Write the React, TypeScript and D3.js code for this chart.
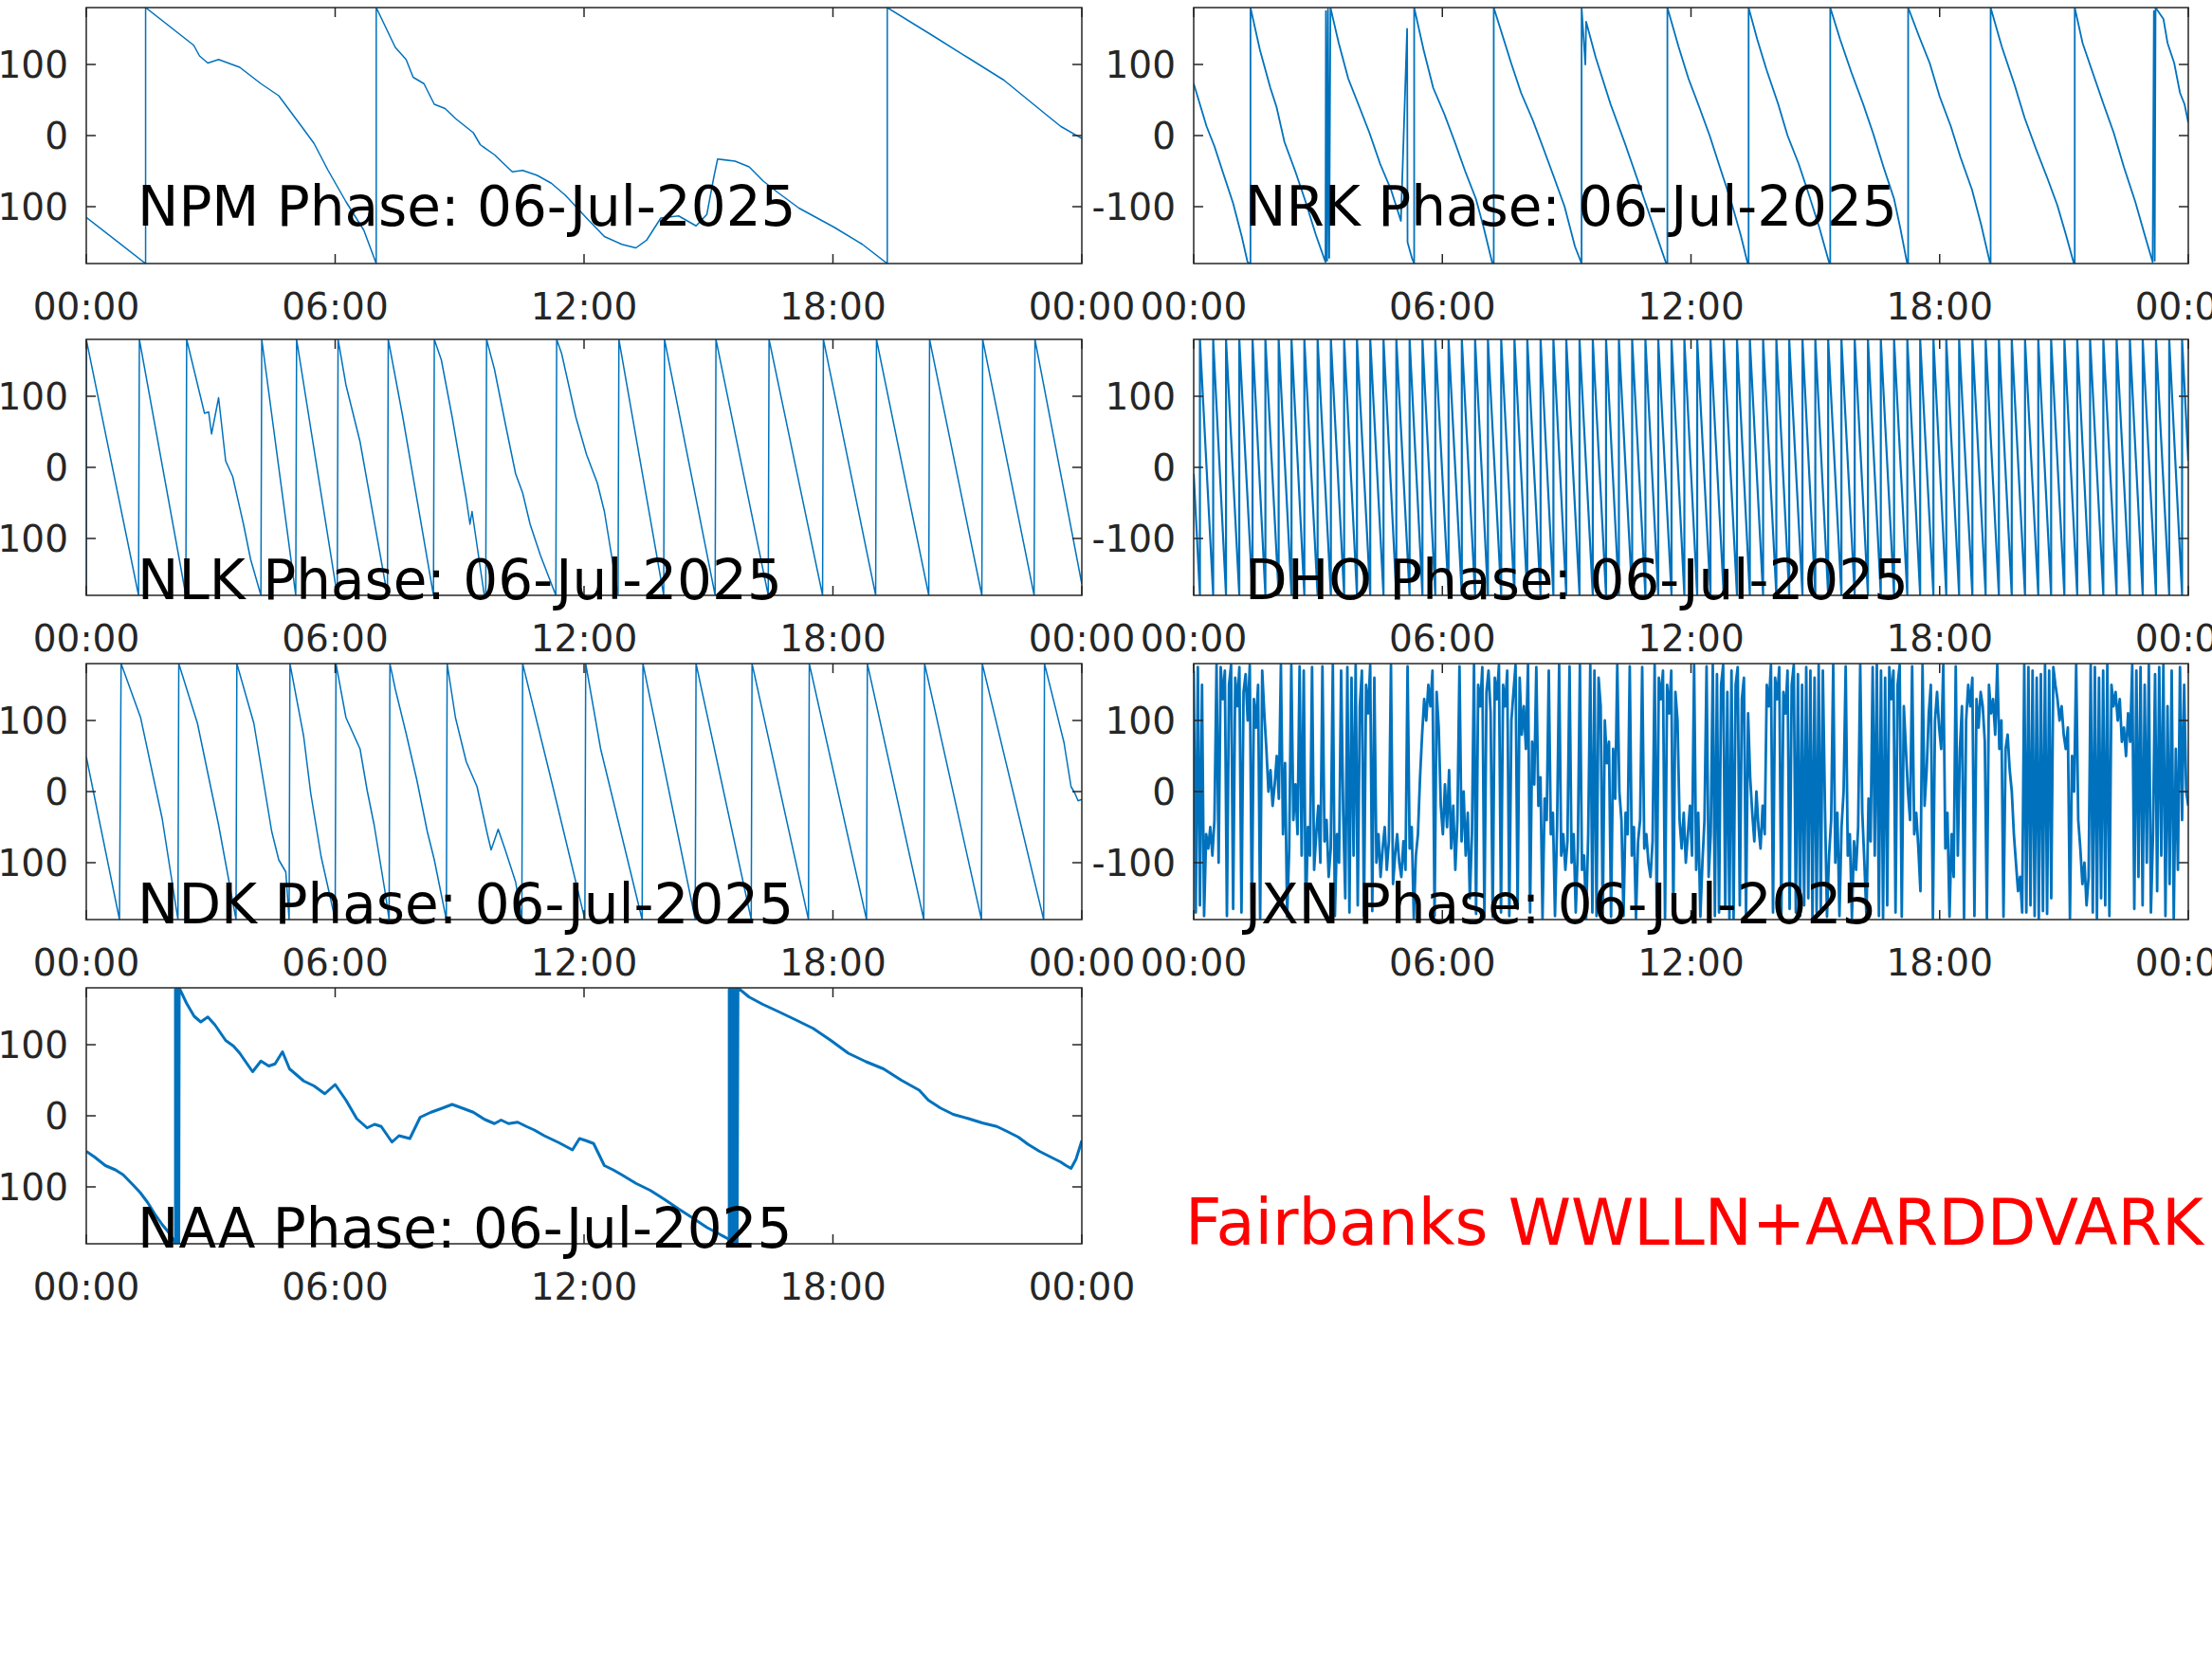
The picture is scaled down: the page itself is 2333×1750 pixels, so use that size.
import React from 'react';
import * as d3 from 'd3';

// phase readings [hour, degrees] for 06-Jul-2025
const npmPhase: [number, number][] = [
  [0, -115], [1.43, -180], [1.43, 180], [2.59, 127], [2.73, 112], [2.93, 102], [3.19, 107], [3.7, 96],
  [4.21, 73], [4.64, 56], [5.15, 16], [5.49, -11], [5.83, -49], [6.26, -93], [6.69, -133], [6.99, -180],
  [6.99, 180], [7.45, 124], [7.71, 107], [7.88, 82], [8.14, 73], [8.39, 44], [8.65, 38], [8.9, 24],
  [9.33, 4], [9.5, -13], [9.84, -27], [10.27, -51], [10.52, -49], [10.87, -56], [11.21, -67], [11.55, -84],
  [12.06, -116], [12.49, -142], [12.91, -153], [13.25, -158], [13.51, -147], [13.85, -116], [14.28, -113],
  [14.7, -127], [14.96, -111], [15.13, -58], [15.22, -33], [15.64, -36], [15.98, -44], [16.32, -64],
  [16.67, -80], [17.18, -102], [18.03, -129], [18.71, -153], [19.31, -180], [19.31, 180], [20.42, 140],
  [21.27, 109], [22.12, 78], [23.15, 29], [23.49, 13], [24, -4],
];

const nrkPhase: [number, number][] = [
  [0, 73], [0.31, 13], [0.5, -15], [0.74, -58], [0.95, -95], [1.16, -142], [1.3, -178], [1.37, -180], [1.37, 180],
  [1.6, 120], [1.85, 67], [2.0, 40], [2.19, -9], [2.45, -50], [2.7, -93], [2.95, -140], [3.18, -178],
  [3.19, 175], [3.22, -176], [3.24, 178], [3.27, -172], [3.3, 180], [3.5, 130], [3.73, 80], [4.0, 40],
  [4.24, 4], [4.5, -40], [4.76, -76], [5.0, -120], [5.15, 150], [5.16, -150], [5.27, -173], [5.32, -180],
  [5.32, 180], [5.55, 120], [5.78, 67], [6.05, 30], [6.3, -9], [6.55, -50], [6.81, -89], [7.0, -130],
  [7.2, -178], [7.24, -180], [7.24, 180], [7.66, 102], [7.9, 60], [8.18, 22], [8.45, -20], [8.69, -58],
  [8.95, -100], [9.2, -156], [9.36, -180], [9.36, 180], [9.45, 100], [9.47, 160], [9.7, 110], [10.06, 44],
  [10.4, -10], [10.74, -67], [11.05, -120], [11.39, -178], [11.43, -180], [11.43, 180], [11.7, 125],
  [11.94, 80], [12.2, 40], [12.45, 0], [12.7, -45], [12.97, -93], [13.2, -140], [13.36, -178],
  [13.39, -180], [13.39, 180], [13.6, 135], [13.82, 93], [14.1, 45], [14.33, 0], [14.6, -40], [14.85, -84],
  [15.1, -130], [15.33, -178], [15.36, -180], [15.36, 180], [15.6, 135], [15.87, 89], [16.15, 45],
  [16.39, 4], [16.65, -45], [16.9, -89], [17.05, -130], [17.21, -178], [17.24, -180], [17.24, 180],
  [17.5, 140], [17.76, 102], [18.0, 55], [18.27, 13], [18.5, -30], [18.78, -76], [19.0, -125],
  [19.21, -178], [19.23, -180], [19.23, 180], [19.5, 125], [19.81, 71], [20.05, 25], [20.32, -18],
  [20.6, -60], [20.84, -98], [21.05, -140], [21.23, -178], [21.26, -180], [21.26, 180], [21.45, 130],
  [21.69, 89], [21.95, 45], [22.2, 4], [22.45, -45], [22.72, -93], [22.95, -140], [23.14, -178],
  [23.17, 175], [23.19, -176], [23.21, 180], [23.4, 164], [23.5, 130], [23.66, 102], [23.8, 60],
  [23.91, 44], [24, 18],
];

const nlkPhase: [number, number][] = [
  [0, -180], [0, 180], [1.26, -180], [1.28, 180], [2.4, -180], [2.42, 180], [2.85, 76], [2.95, 78],
  [3.02, 47], [3.19, 98], [3.36, 9], [3.53, -13], [3.79, -80], [3.96, -129], [4.21, -180], [4.23, 180],
  [5.05, -180], [5.07, 180], [6.05, -180], [6.07, 180], [6.26, 116], [6.6, 36], [7.26, -180], [7.28, 180],
  [7.63, 71], [8.37, -180], [8.39, 180], [8.56, 151], [8.82, 71], [9.16, -44], [9.25, -80], [9.3, -62],
  [9.59, -178], [9.63, -180], [9.65, 180], [9.84, 138], [10.1, 62], [10.35, -9], [10.52, -36],
  [10.7, -80], [10.95, -124], [11.32, -180], [11.34, 180], [11.46, 160], [11.8, 71], [12.06, 18],
  [12.32, -22], [12.49, -62], [12.82, -180], [12.84, 180], [13.92, -180], [13.94, 180], [15.16, -180],
  [15.18, 180], [16.44, -180], [16.46, 180], [17.75, -180], [17.77, 180], [19.03, -180], [19.05, 180],
  [20.31, -180], [20.33, 180], [21.59, -180], [21.61, 180], [22.85, -180], [22.87, 180], [24, -164],
];

// DHO wraps too fast to list every reading: hours where phase jumps -180 -> 180
const dhoWraps: number[] = [
  0.15, 0.47, 0.78, 1.1, 1.42, 1.73, 2.05, 2.36, 2.67, 2.99, 3.31, 3.63, 3.94, 4.26, 4.58, 4.89, 5.21,
  5.52, 5.83, 6.15, 6.47, 6.79, 7.1, 7.42, 7.74, 8.05, 8.37, 8.68, 8.99, 9.31, 9.63, 9.95, 10.26, 10.58,
  10.9, 11.21, 11.53, 11.84, 12.15, 12.47, 12.79, 13.11, 13.42, 13.74, 14.06, 14.37, 14.69, 15.0, 15.31,
  15.63, 15.95, 16.27, 16.58, 16.9, 17.22, 17.53, 17.85, 18.16, 18.47, 18.79, 19.11, 19.43, 19.74,
  20.06, 20.38, 20.69, 21.01, 21.32, 21.63, 21.95, 22.27, 22.59, 22.9, 23.22, 23.54, 23.85,
];
const dhoStart = -9;
const dhoEnd = 9;

const ndkPhase: [number, number][] = [
  [0, 49], [0.8, -180], [0.84, 180], [1.31, 104], [1.83, -38], [2.21, -180], [2.23, 180], [2.68, 96],
  [3.19, -47], [3.61, -180], [3.63, 180], [4.04, 96], [4.47, -56], [4.64, -96], [4.81, -113],
  [4.89, -180], [4.91, 180], [5.24, 78], [5.41, -2], [5.66, -91], [6.0, -180], [6.02, 180], [6.26, 104],
  [6.6, 60], [6.77, 2], [6.94, -47], [7.2, -140], [7.3, -180], [7.32, 180], [7.45, 144], [7.71, 82],
  [7.97, 16], [8.22, -56], [8.39, -96], [8.68, -180], [8.7, 180], [8.9, 104], [9.16, 42], [9.42, 7],
  [9.67, -60], [9.76, -82], [9.93, -53], [10.1, -82], [10.35, -127], [10.5, -180], [10.52, 180],
  [11.21, 16], [12.02, -180], [12.04, 180], [12.4, 60], [13.4, -180], [13.42, 180], [14.68, -180],
  [14.7, 180], [16.03, -180], [16.05, 180], [17.41, -180], [17.43, 180], [18.81, -180], [18.83, 180],
  [20.19, -180], [20.21, 180], [21.58, -180], [21.6, 180], [23.08, -180], [23.1, 180], [23.57, 69],
  [23.74, 7], [23.83, -2], [23.91, -13], [24, -11],
];

// JXN: evenly spaced readings across the day, one row per hour
const jxnPhase: number[] = [
  170, -170, 175, -160, 150, -175, -60, -80, -50, -90, -40, 178, -100, 175, 130, 170, -175, 150, 178, -165,
  160, 120, 175, -170, 140, 165, 100, 178, -172, 130, 90, 150, -178, 170, 110, 60, 0, 30, -20, 10,
  50, -10, 178, -60, 40, -176, -80, 178, -40, 10, -60, 176, -90, 170, -178, -50, -90, 175, -110, -60,
  -20, -100, 176, -70, -40, -120, -80, 178, -175, -60, -100, 170, -30, -150, 175, -170, 160, -90, 178, -160,
  120, 170, -175, 150, 110, 178, -168, 160, -100, -60, -120, -80, -50, -110, -70, 178, -130, -90, -60, -100,
  -120, -70, -110, 176, -80, -50, -178, -90, -60, 20, 80, 130, 100, 150, 120, 170, -175, 140, 90, -20,
  -60, 10, -50, 30, -80, -20, -110, -40, 176, -70, 0, -90, -30, -150, -60, 178, -172, 150, 120, 175,
  -178, 140, 170, 110, -176, 160, 130, 178, -170, 150, 120, 170, -175, 100, 140, 178, -165, 160, 80, 120,
  60, 178, -170, 70, 10, 175, -20, 20, -178, -10, -40, 170, -60, -30, -175, -50, 178, -90, -60, -110,
  -70, 176, -100, -60, -170, -80, 178, -110, -90, -178, -60, 178, -170, 170, -175, 160, 120, -178, 100, 40,
  70, -176, 60, -10, 178, 0, -40, -175, -30, -60, 176, -90, -50, -178, -70, -40, 175, -80, -60, -100,
  -120, -70, 178, -175, 160, 130, 170, -178, 150, 110, 170, -172, 140, 100, -40, -80, -30, -100, -60, -20,
  -90, 178, -110, -30, -176, -100, -40, 176, -120, -60, 178, -175, 165, -170, 150, 178, -165, 140, -178, 170,
  -178, 150, 175, -160, 130, 160, -175, 110, 20, -30, -70, 0, -50, -80, -20, -60, 150, 120, 178, -170,
  160, 130, 175, -178, 140, 110, 170, -165, 150, 178, -170, 165, -175, 150, -160, 175, -150, 170, -178, 160,
  -170, 178, -165, 170, -20, -176, -90, -40, 178, -100, -30, -175, -50, 0, 176, -90, -60, -178, -70, -110,
  -50, 178, -30, -100, -176, -10, -70, 175, -90, 178, -175, 170, -178, 160, -160, 175, 130, 170, -170, 150,
  178, -176, 120, 60, 0, -40, 176, -60, -30, -80, -140, 178, -20, 30, 110, 150, -178, 100, 140, 90,
  60, 178, -80, -30, -176, -60, -120, 176, -90, 60, 120, -178, 100, 150, 120, 160, -175, 130, 90, 140,
  120, 70, -178, 150, 110, 130, 80, 178, 60, 100, -176, 60, 80, 30, 0, -60, -100, -140, -120, -170,
  178, -170, 175, -160, 170, -175, 160, -178, 165, -168, 178, -172, 170, -150, 175, 150, 130, 100, 120, 80,
  60, 90, -178, 50, 0, 178, -40, -80, -130, -100, -160, -120, 178, -170, 175, -178, 160, -150, 170, -160,
  178, -175, 150, 120, 140, 100, 130, 70, 90, 50, 110, 70, 178, -165, 170, -120, 175, -160, 150, -100,
  178, -170, -60, 165, -140, 175, -90, 178, -175, 120, -130, 170, -178, 60, -110, 175, -40, 150, 0, -20,
];

const naaPhase: [number, number][] = [
  [0, -50], [0.2, -58], [0.46, -70], [0.7, -76], [0.89, -83], [1.14, -98], [1.3, -108], [1.48, -122],
  [1.65, -138], [1.83, -153], [2.0, -165], [2.13, -177], [2.15, -180], [2.15, 178], [2.17, -179],
  [2.18, 179], [2.2, -178], [2.21, 180], [2.23, -179], [2.24, 180], [2.42, 158], [2.6, 140], [2.76, 132],
  [2.93, 139], [3.1, 128], [3.36, 106], [3.55, 98], [3.7, 88], [4.01, 62], [4.21, 77], [4.4, 70],
  [4.55, 73], [4.73, 90], [4.9, 66], [5.24, 49], [5.49, 42], [5.75, 31], [6.0, 44], [6.26, 22],
  [6.52, -4], [6.77, -17], [6.95, -12], [7.11, -15], [7.37, -37], [7.54, -28], [7.8, -32], [8.05, -2],
  [8.31, 5], [8.55, 10], [8.82, 16], [9.1, 10], [9.33, 5], [9.6, -5], [9.84, -11], [10.0, -6],
  [10.18, -11], [10.4, -9], [10.61, -15], [10.8, -20], [11.04, -28], [11.4, -38], [11.72, -48],
  [11.89, -32], [12.05, -35], [12.23, -39], [12.49, -70], [12.7, -76], [12.91, -83], [13.25, -95],
  [13.6, -105], [13.95, -118], [14.28, -131], [14.6, -143], [14.96, -157], [15.25, -166], [15.47, -173],
  [15.5, -178], [15.5, 178], [15.53, -177], [15.56, 179], [15.59, -178], [15.61, 178], [15.64, -179],
  [15.67, 179], [15.69, -178], [15.71, 180], [15.98, 167], [16.3, 157], [16.67, 147], [17.1, 135],
  [17.52, 123], [17.95, 106], [18.37, 88], [18.8, 76], [19.22, 66], [19.65, 50], [20.08, 36],
  [20.3, 22], [20.59, 11], [20.9, 2], [21.27, -4], [21.6, -10], [21.95, -15], [22.2, -22], [22.47, -30],
  [22.7, -40], [22.98, -50], [23.25, -58], [23.49, -65], [23.62, -70], [23.74, -74], [23.86, -61],
  [24, -35],
];

const stations = ['NPM', 'NRK', 'NLK', 'DHO', 'NDK', 'JXN', 'NAA'];
const dateLabel = '06-Jul-2025';
const yTicks = [-100, 0, 100];
const siteLabel = 'Fairbanks WWLLN+AARDDVARK';

const dhoPhase: [number, number][] = [[0, dhoStart]];
dhoWraps.forEach(w => { dhoPhase.push([w, -180], [w, 180]); });
dhoPhase.push([24, dhoEnd]);

const jxnSeries: [number, number][] = jxnPhase.map((v, i) => [(i * 24) / (jxnPhase.length - 1), v]);

const seriesByStation: Record<string, [number, number][]> = {
  NPM: npmPhase, NRK: nrkPhase, NLK: nlkPhase, DHO: dhoPhase,
  NDK: ndkPhase, JXN: jxnSeries, NAA: naaPhase,
};

const cols = [[91, 1141], [1259, 2308]];
const rows = [[8, 278], [358, 628], [700, 970], [1042, 1312]];
const lineWidth: Record<string, number> = { NPM: 1.5, NRK: 1.8, NLK: 1.5, DHO: 2.2, NDK: 1.5, JXN: 2.8, NAA: 3 };

const FONT = 'DejaVu Sans';
const AX = '#262626';
const BLUE = '#0072BD';
const T0 = Date.UTC(2025, 6, 6);
const toDate = (h: number) => new Date(T0 + h * 3600000);
const fmt = d3.utcFormat('%H:%M');

function Panel({ name, idx }: { name: string; idx: number }) {
  const [x0, x1] = cols[idx % 2];
  const [y0, y1] = rows[Math.floor(idx / 2)];
  const x = d3.scaleUtc().domain([toDate(0), toDate(24)]).range([x0, x1]);
  const y = d3.scaleLinear().domain([-180, 180]).range([y1, y0]);
  const line = d3.line<[number, number]>().x(d => x(toDate(d[0]))).y(d => y(d[1]));
  const xt = x.ticks(d3.utcHour.every(6)!);
  const tl = 10;
  const titleY = idx < 2 ? y1 - 40 : y1 + 4;
  const clip = `clip-${name}`;
  return (
    <g>
      <clipPath id={clip}><rect x={x0} y={y0} width={x1 - x0} height={y1 - y0} /></clipPath>
      <path d={line(seriesByStation[name]) || ''} fill="none" stroke={BLUE}
        strokeWidth={lineWidth[name]} strokeLinejoin="round" clipPath={`url(#${clip})`} />
      <rect x={x0} y={y0} width={x1 - x0} height={y1 - y0} fill="none" stroke={AX} strokeWidth={1.5} />
      {xt.map((t, i) => (
        <g key={'x' + i}>
          <line x1={x(t)} x2={x(t)} y1={y1} y2={y1 - tl} stroke={AX} strokeWidth={1.5} />
          <line x1={x(t)} x2={x(t)} y1={y0} y2={y0 + tl} stroke={AX} strokeWidth={1.5} />
          <text x={x(t)} y={y1 + 59} textAnchor="middle" fontSize={39} fill={AX} fontFamily={FONT}>{fmt(t)}</text>
        </g>
      ))}
      {yTicks.map(v => (
        <g key={'y' + v}>
          <line x1={x0} x2={x0 + tl} y1={y(v)} y2={y(v)} stroke={AX} strokeWidth={1.5} />
          <line x1={x1} x2={x1 - tl} y1={y(v)} y2={y(v)} stroke={AX} strokeWidth={1.5} />
          <text x={x0 - 19} y={y(v) + 14} textAnchor="end" fontSize={39} fill={AX} fontFamily={FONT}>{v}</text>
        </g>
      ))}
      <text x={x0 + 54} y={titleY} fontSize={58} fill="#000" fontFamily={FONT}>{`${name} Phase: ${dateLabel}`}</text>
    </g>
  );
}

export default function App() {
  return (
    <svg width={2333} height={1750} style={{ position: 'absolute', left: 0, top: 0, background: '#fff' }}>
      <rect width={2333} height={1750} fill="#fff" />
      {stations.map((s, i) => <Panel key={s} name={s} idx={i} />)}
      <text x={1250} y={1313} fontSize={67} fill="#FF0000" fontFamily={FONT}>{siteLabel}</text>
    </svg>
  );
}
